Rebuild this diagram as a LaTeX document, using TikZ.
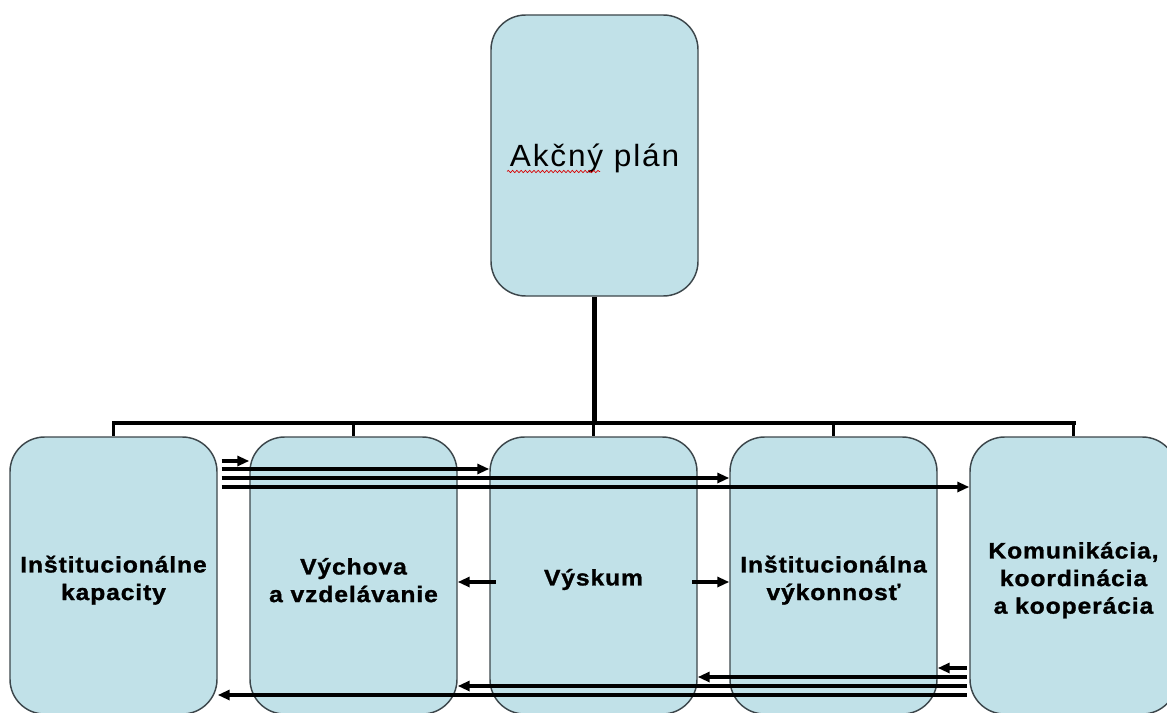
\documentclass[tikz,border=0pt]{standalone}
\usepackage{fontspec}
\setmainfont{Liberation Sans}
\newfontfamily\boxfont[LetterSpace=4, FakeStretch=1.1, BoldFeatures={FakeBold=1.2}]{Liberation Sans}
\newfontfamily\topfont[LetterSpace=6, FakeStretch=1.03]{Liberation Sans}
\usetikzlibrary{arrows.meta,decorations.pathmorphing}
\definecolor{boxfill}{RGB}{193,225,232}
\definecolor{boxline}{RGB}{60,70,75}
\tikzset{
  box/.style={draw=boxline, fill=boxfill, line width=1.1pt, rounded corners=26pt,
    minimum width=155.25pt, minimum height=207.75pt, inner sep=0pt},
  topbox/.style={box, minimum height=210.75pt},
  boxtext/.style={align=center, inner sep=0pt,
    font=\boxfont\bfseries\fontsize{16.8}{20.7}\selectfont},
  toptext/.style={inner sep=0pt, font=\topfont\fontsize{23}{27}\selectfont},
  conn/.style={line width=3pt, black},
  arr/.style={line width=2.3pt, black, -{Triangle[length=9pt,width=7.5pt]}}
}
\begin{document}
\begin{tikzpicture}[x=0.75pt, y=-0.75pt]
\useasboundingbox (0,0) rectangle (1167,713);
\clip (0,0) rectangle (1167,713);
% boxes
\node[topbox] (top) at (594.5,155.5) {};
\node[box] (b1) at (113.5,575.5) {};
\node[box] (b2) at (353.5,575.5) {};
\node[box] (b3) at (593.5,575.5) {};
\node[box] (b4) at (833.5,575.5) {};
\node[box] (b5) at (1073.5,575.5) {};
% texts
\node[toptext] (tt) at ([yshift=-2.5pt]top.center) {Akčný plán};
\node[boxtext] (t1) at ([yshift=-3.5pt]b1.center) {Inštitucionálne\\kapacity};
\node[boxtext] (t2) at ([yshift=-3.5pt]b2.center) {Výchova\\a vzdelávanie};
\node[boxtext] (t3) at ([yshift=-3pt]b3.center) {Výskum};
\node[boxtext] (t4) at ([yshift=-3.5pt]b4.center) {Inštitucionálna\\výkonnosť};
\node[boxtext] (t5) at ([yshift=-3.5pt]b5.center) {Komunikácia,\\koordinácia\\a kooperácia};
% spell-check squiggle
\draw[red!85!black, line width=0.5pt, decorate,
  decoration={snake, amplitude=0.9pt, segment length=3.2pt}] (507,171.5) -- (600,171.5);
% tree connector
\coordinate (barY) at (0,423);
\draw[line width=3.8pt] (top.south) -- (top.south |- barY);
\draw[conn, line cap=rect] (b1.north |- barY) -- (b5.north |- barY);
\foreach \b in {b1,b2,b3,b4,b5}{
  \draw[conn, line width=2.8pt] (\b.north |- barY) -- (\b.north);
}
% forward arrows from b1
\coordinate (r1) at (0,461);
\coordinate (r2) at (0,469);
\coordinate (r3) at (0,478);
\coordinate (r4) at (0,487);
\draw[arr, shorten <=3pt] (b1.east |- r1) -- (b2.west |- r1);
\draw[arr, shorten <=3pt] (b1.east |- r2) -- (b3.west |- r2);
\draw[arr, shorten <=3pt] (b1.east |- r3) -- (b4.west |- r3);
\draw[arr, shorten <=3pt] (b1.east |- r4) -- (b5.west |- r4);
% backward arrows from b5
\coordinate (s1) at (0,668);
\coordinate (s2) at (0,677);
\coordinate (s3) at (0,686);
\coordinate (s4) at (0,695);
\draw[arr, shorten <=2pt] (b5.west |- s1) -- (b4.east |- s1);
\draw[arr, shorten <=2pt] (b5.west |- s2) -- (b3.east |- s2);
\draw[arr, shorten <=2pt] (b5.west |- s3) -- (b2.east |- s3);
\draw[arr, shorten <=2pt] (b5.west |- s4) -- (b1.east |- s4);
% middle arrows from Výskum
\coordinate (m) at (0,582);
\draw[arr, shorten <=-5pt] (b3.west |- m) -- (b2.east |- m);
\draw[arr, shorten <=-4pt] (b3.east |- m) -- (b4.west |- m);
\end{tikzpicture}
\end{document}
